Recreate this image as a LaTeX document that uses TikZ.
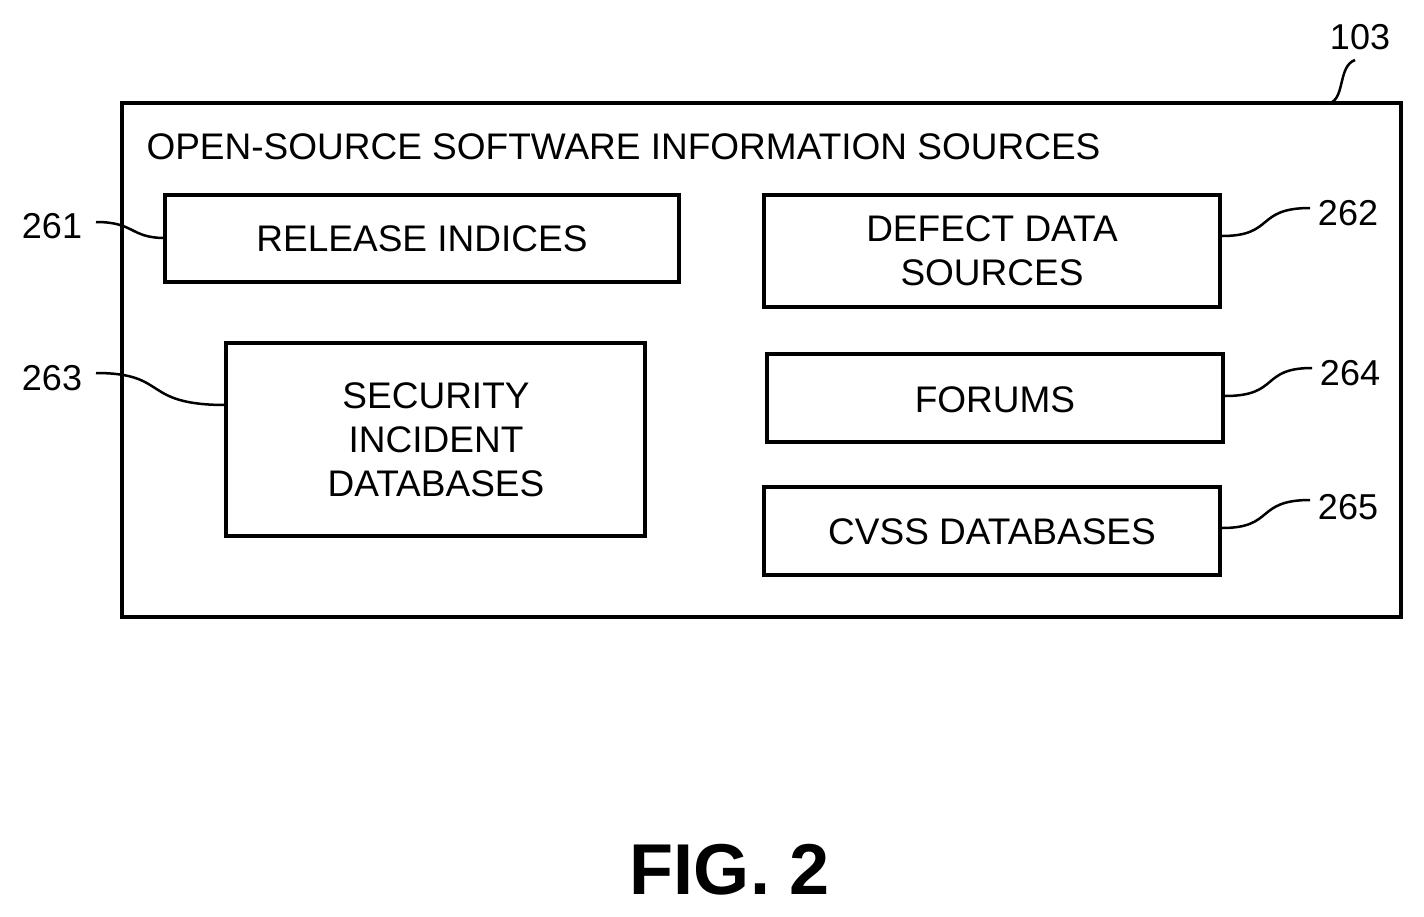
\documentclass[tikz,border=0pt]{standalone}
\usepackage{fontspec}
\setmainfont{Liberation Sans}
\begin{document}
\begin{tikzpicture}[x=1pt,y=-1pt,
 box/.style={draw,line width=3.5pt},
 txt/.style={font=\fontsize{37}{44}\selectfont,align=center},
 lbl/.style={font=\fontsize{36}{40}\selectfont},
 lead/.style={line width=2.5pt}]
\useasboundingbox (0,0) rectangle (1424,916);
\draw[box] (122,103) rectangle (1401,617);
\node[txt,anchor=west] (title) at (143,147) {OPEN-SOURCE SOFTWARE INFORMATION SOURCES};
\draw[box] (165,195) rectangle (679,282);
\node[txt] (rel) at (422,239) {RELEASE INDICES};
\draw[box] (764,195) rectangle (1220,307);
\node[txt] (def) at (992,251) {DEFECT DATA\\SOURCES};
\draw[box] (226,343) rectangle (645,536);
\node[txt] (sec) at (436,440) {SECURITY\\INCIDENT\\DATABASES};
\draw[box] (767,354) rectangle (1223,442);
\node[txt] (for) at (995,400) {FORUMS};
\draw[box] (764,487) rectangle (1220,575);
\node[txt] (cvss) at (992,532) {CVSS DATABASES};
\node[lbl] (l103) at (1360,37) {103};
\node[lbl] (l261) at (52,226) {261};
\node[lbl] (l262) at (1348,213) {262};
\node[lbl] (l263) at (52,378) {263};
\node[lbl] (l264) at (1350,373) {264};
\node[lbl] (l265) at (1348,507) {265};
\draw[lead] (1330,103) .. controls (1345,98) and (1338,66) .. (1355,60);
\draw[lead] (96,222) .. controls (135,222) and (130,238) .. (165,238);
\draw[lead] (1222,236) .. controls (1275,236) and (1255,208) .. (1310,208);
\draw[lead] (96,373) .. controls (170,373) and (140,405) .. (226,405);
\draw[lead] (1225,396) .. controls (1280,396) and (1260,368) .. (1312,368);
\draw[lead] (1222,528) .. controls (1275,528) and (1255,500) .. (1310,500);
\node[font=\bfseries\fontsize{72}{80}\selectfont] (fig) at (730,870) {FIG. 2};
\end{tikzpicture}
\end{document}
